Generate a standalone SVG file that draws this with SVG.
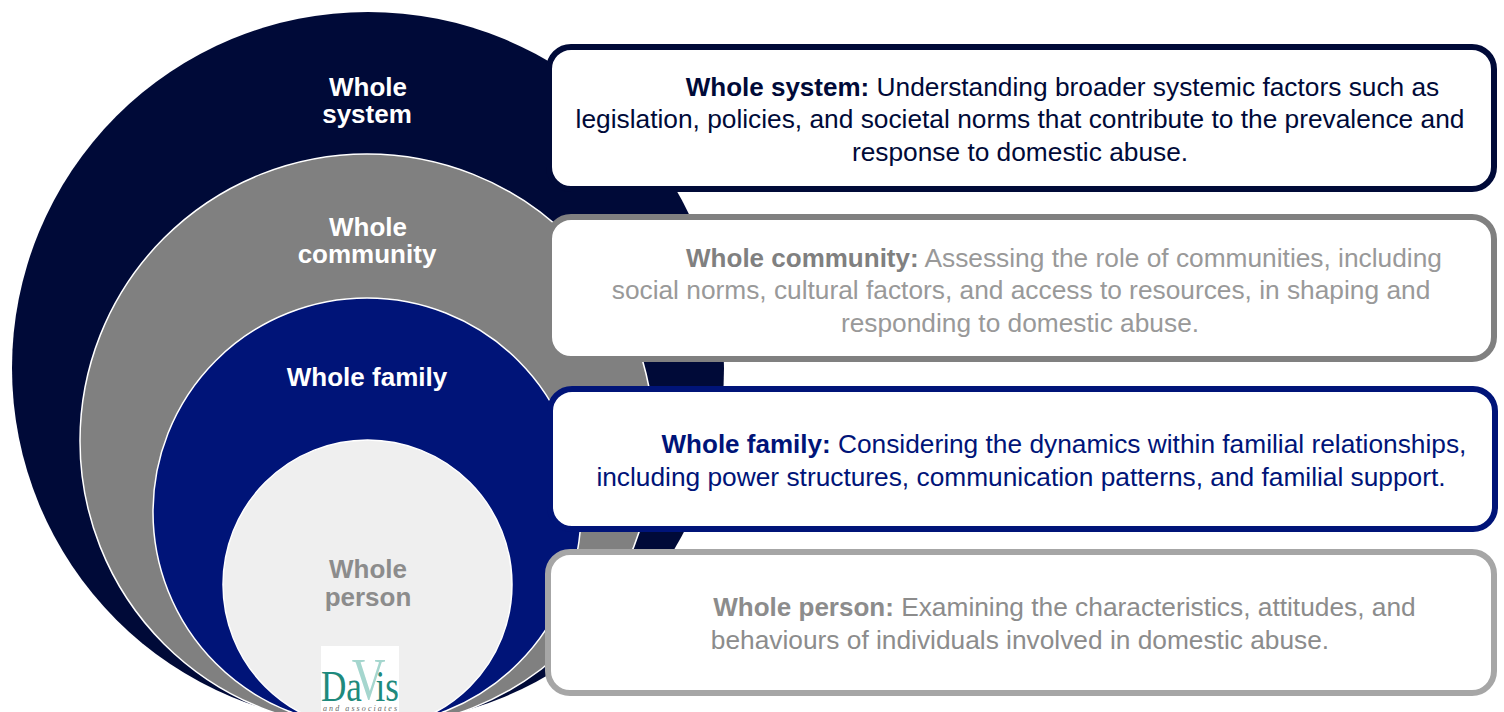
<svg xmlns="http://www.w3.org/2000/svg" width="1504" height="712" viewBox="0 0 1504 712">
<style>
text{font-family:"Liberation Sans",Arial,sans-serif;text-anchor:middle}
.c{font-size:26px;font-weight:700;fill:#fff}
.t{font-size:26.300px}
.b{font-weight:700;font-size:26px}
.ring{stroke:#fff;stroke-width:1.500}
.box{fill:#fff;stroke-width:6}
.logo{font-family:"Liberation Serif",serif;text-anchor:start}
</style>
<rect width="1504" height="712" fill="#fff"/>
<g id="whole-system-circle"><circle cx="368" cy="368" r="356" fill="#000a38"/><text class="c" x="368" y="96">Whole</text><text class="c" x="367" y="123">system</text></g>
<g id="whole-community-circle"><circle class="ring" cx="367" cy="441" r="287" fill="#808080"/><text class="c" x="368" y="236">Whole</text><text class="c" x="367" y="263">community</text></g>
<g id="whole-family-circle"><circle class="ring" cx="367" cy="512" r="214" fill="#001478"/><text class="c" x="367" y="386">Whole family</text></g>
<g id="whole-person-circle"><circle class="ring" cx="367.500" cy="584.500" r="144.500" fill="#efefef"/><text class="c" x="368" y="578" style="fill:#8c8c8c">Whole</text><text class="c" x="368" y="606" style="fill:#8c8c8c">person</text></g>
<g id="logo"><rect x="321" y="646" width="78" height="66" fill="#fff"/>
<text class="logo" transform="translate(321 701) scale(0.78 1)" font-size="45" fill="#1f8a7d">Da<tspan font-size="60" fill="#a5d6ce" dx="-13" dy="-2">V</tspan><tspan dx="-13" dy="2">is</tspan></text>
<text class="logo" x="323" y="711" font-size="8" font-style="italic" fill="#666" textLength="74">and associates</text></g>
<g id="box-system"><rect class="box" x="549" y="47" width="945" height="142" rx="22" stroke="#000a38"/>
<text class="t" fill="#000a38" x="1062.500" y="96"><tspan class="b">Whole system:</tspan> Understanding broader systemic factors such as</text>
<text class="t" fill="#000a38" x="1020" y="128">legislation, policies, and societal norms that contribute to the prevalence and</text>
<text class="t" fill="#000a38" x="1020" y="161">response to domestic abuse.</text></g>
<g id="box-community"><rect class="box" x="549" y="217" width="945" height="142" rx="22" stroke="#808080"/>
<text class="t" fill="#999" x="1064" y="267"><tspan class="b" fill="#808080">Whole community:</tspan> Assessing the role of communities, including</text>
<text class="t" fill="#999" x="1021" y="299">social norms, cultural factors, and access to resources, in shaping and</text>
<text class="t" fill="#999" x="1020" y="332">responding to domestic abuse.</text></g>
<g id="box-family"><rect class="box" x="550" y="389" width="945" height="140" rx="22" stroke="#001478"/>
<text class="t" fill="#001478" x="1064" y="453"><tspan class="b">Whole family:</tspan> Considering the dynamics within familial relationships,</text>
<text class="t" fill="#001478" x="1021" y="486">including power structures, communication patterns, and familial support.</text></g>
<g id="box-person"><rect class="box" x="548" y="552" width="946" height="141" rx="22" stroke="#a6a6a6"/>
<text class="t" fill="#8c8c8c" x="1064.500" y="616"><tspan class="b">Whole person:</tspan> Examining the characteristics, attitudes, and</text>
<text class="t" fill="#8c8c8c" x="1020" y="649">behaviours of individuals involved in domestic abuse.</text></g>
<g id="connectors"/>
</svg>
